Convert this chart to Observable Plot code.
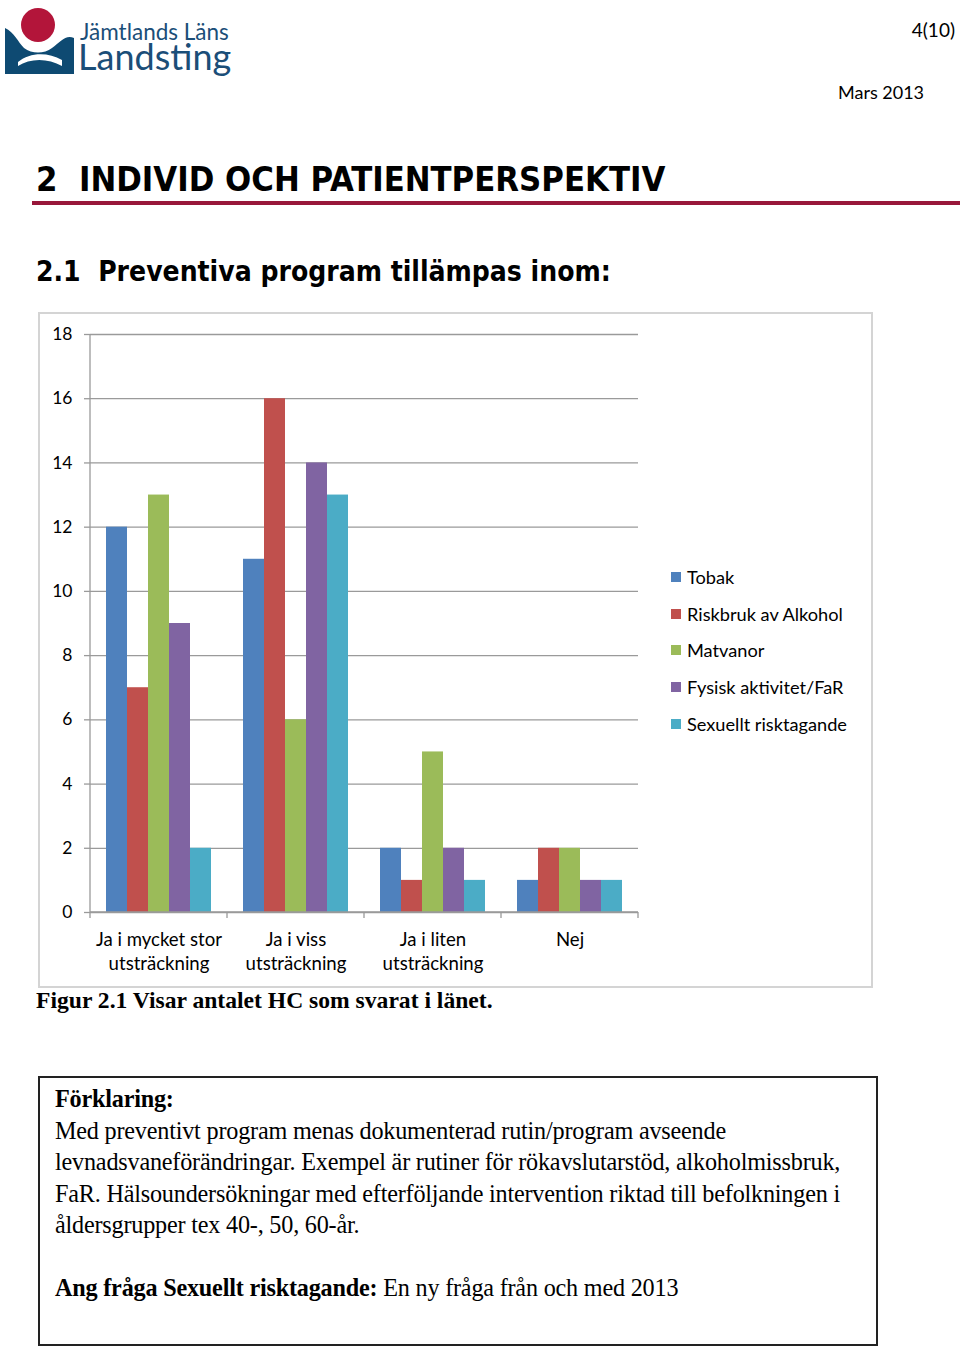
<!DOCTYPE html>
<html>
<head>
<meta charset="utf-8">
<script src="https://cdn.jsdelivr.net/npm/d3@7"></script>
<script src="https://cdn.jsdelivr.net/npm/@observablehq/plot@0.6"></script>
<style>
  html, body { margin: 0; padding: 0; background: #fff; }
  body { width: 960px; height: 1349px; position: relative; overflow: hidden; font-family: Lato, "Open Sans", sans-serif; color: #000; }
  .abs { position: absolute; }
  #logo { left: 2px; top: 4px; }
  .pg { right: 5px; top: 18px; font-size: 19px; font-family: Lato, sans-serif; }
  .date { left: 838px; top: 81px; font-size: 18px; font-family: Lato, sans-serif; }
  .h1 { left: 36px; top: 159px; font-family: "DejaVu Sans Condensed", "DejaVu Sans", sans-serif; font-stretch: condensed; font-weight: bold; font-size: 34.3px; white-space: nowrap; }
  .rule { left: 32px; top: 201px; width: 928px; height: 4px; background: #98173a; }
  .h2 { left: 36px; top: 255px; font-family: "DejaVu Sans Condensed", "DejaVu Sans", sans-serif; font-stretch: condensed; font-weight: bold; font-size: 28px; white-space: nowrap; }
  #chartbox { left: 38px; top: 312px; width: 835px; height: 676px; box-sizing: border-box; border: 2px solid #d4d4d4; }
  #chart { position: absolute; left: 0; top: 0; }
  #legend { position: absolute; left: 631px; top: 245px; font-size: 18.2px; font-family: Lato, sans-serif; }
  .li { height: 36.6px; display: flex; align-items: center; white-space: nowrap; }
  .sw { width: 10px; height: 10px; margin-right: 6px; display: inline-block; }
  .cap { left: 36px; top: 987px; font-family: "Liberation Serif", "DejaVu Serif", serif; font-weight: bold; font-size: 23.6px; white-space: nowrap; }
  #expl { left: 38px; top: 1076px; width: 840px; height: 270px; box-sizing: border-box; border: 2px solid #222; padding: 5px 15px; font-family: "Liberation Serif", "DejaVu Serif", serif; font-size: 24.2px; line-height: 31.5px; letter-spacing: -0.2px; }
  #expl p { margin: 0; white-space: nowrap; }
</style>
</head>
<body>
<svg id="logo" class="abs" width="240" height="80" viewBox="0 0 240 80">
  <path d="M3 24 L3 70 L72 70 L72 34 C64 30 58 38 50 44 C42 50 30 50 22 44 C16 38 12 28 3 24 Z" fill="#0e4a72"/>
  <path d="M16 58 C28 48 46 48 60 56 L60 62 C46 54 28 54 16 62 Z" fill="#ffffff"/>
  <circle cx="36" cy="21" r="17" fill="#b3153a"/>
  <text x="78" y="36" font-family="Lato, 'Open Sans', sans-serif" font-size="22.5" fill="#1b4e78">Jämtlands Läns</text>
  <text x="76" y="66" font-family="Lato, 'Open Sans', sans-serif" font-size="36" fill="#1b4e78">Landsting</text>
</svg>
<div class="abs pg">4(10)</div>
<div class="abs date">Mars 2013</div>
<div class="abs h1">2&nbsp;&nbsp;INDIVID OCH PATIENTPERSPEKTIV</div>
<div class="abs rule"></div>
<div class="abs h2">2.1&nbsp;&nbsp;Preventiva program tillämpas inom:</div>
<div id="chartbox" class="abs">
  <div id="chart"></div>
  <div id="legend"></div>
</div>
<div class="abs cap">Figur 2.1 Visar antalet HC som svarat i länet.</div>
<div id="expl" class="abs">
  <p><b>Förklaring:</b></p>
  <p>Med preventivt program menas dokumenterad rutin/program avseende</p>
  <p>levnadsvaneförändringar. Exempel är rutiner för rökavslutarstöd, alkoholmissbruk,</p>
  <p>FaR. Hälsoundersökningar med efterföljande intervention riktad till befolkningen i</p>
  <p>åldersgrupper tex 40-, 50, 60-år.</p>
  <p>&nbsp;</p>
  <p><b>Ang fråga Sexuellt risktagande:</b> En ny fråga från och med 2013</p>
</div>
<script>
const categories = ["Ja i mycket stor\nutsträckning", "Ja i viss\nutsträckning", "Ja i liten\nutsträckning", "Nej"];
const series = ["Tobak", "Riskbruk av Alkohol", "Matvanor", "Fysisk aktivitet/FaR", "Sexuellt risktagande"];
const colors = ["#4f81bd", "#c0504d", "#9bbb59", "#8064a2", "#4bacc6"];
const tobak = [12, 11, 2, 1];
const alkohol = [7, 16, 1, 2];
const matvanor = [13, 6, 5, 2];
const fysisk = [9, 14, 2, 1];
const sexuellt = [2, 13, 1, 1];
const yTicks = [0, 2, 4, 6, 8, 10, 12, 14, 16, 18];

const seriesValues = [tobak, alkohol, matvanor, fysisk, sexuellt];
const data = [];
categories.forEach((c, i) => series.forEach((s, j) => data.push({category: c, series: s, value: seriesValues[j][i]})));

const gridColor = "#9a9a9a";
const plot = Plot.plot({
  width: 620,
  height: 670,
  marginLeft: 50,
  marginRight: 22,
  marginTop: 20,
  marginBottom: 72,
  style: {fontFamily: "Lato, 'Open Sans', sans-serif", fontSize: "17.5px", color: "#000", background: "transparent"},
  fx: {domain: categories, padding: 0, label: null},
  x: {domain: series, paddingInner: 0, paddingOuter: 0.76, axis: null},
  y: {domain: [0, 18], label: null},
  color: {domain: series, range: colors},
  marks: [
    Plot.gridY(yTicks, {stroke: gridColor, strokeOpacity: 1, strokeWidth: 1.3}),
    Plot.barY(data, {fx: "category", x: "series", y: "value", fill: "series"}),
    Plot.axisY(yTicks, {tickSize: 6, tickPadding: 12, stroke: gridColor, strokeWidth: 1.3, fontSize: 17.5}),
    Plot.axisFx({anchor: "bottom", tickSize: 0, tickPadding: 16, lineHeight: 1.32, fontSize: 18.6, label: null})
  ]
});
document.getElementById("chart").appendChild(plot);

// axis line and category boundary ticks, positioned with the plot's scales
const fx = plot.scale("fx");
const ys = plot.scale("y");
const svg = d3.select(plot.tagName.toLowerCase() === "svg" ? plot : plot.querySelector("svg"));
const bw = fx.bandwidth;
const starts = categories.map(c => fx.apply(c));
const bounds = starts.concat([starts[starts.length - 1] + bw]);
const y0 = ys.apply(0), yTop = ys.apply(18);
const g = svg.append("g").attr("stroke", gridColor).attr("stroke-width", 1.3);
g.append("line").attr("x1", bounds[0]).attr("x2", bounds[0]).attr("y1", yTop).attr("y2", y0);
g.append("line").attr("x1", bounds[0]).attr("x2", bounds[bounds.length - 1]).attr("y1", y0).attr("y2", y0);
g.selectAll("line.b").data(bounds).join("line").attr("class", "b")
  .attr("x1", d => d).attr("x2", d => d).attr("y1", y0).attr("y2", y0 + 6);

// legend
const legend = document.getElementById("legend");
series.forEach((s, i) => {
  const row = document.createElement("div");
  row.className = "li";
  row.innerHTML = `<span class="sw" style="background:${colors[i]}"></span><span>${s}</span>`;
  legend.appendChild(row);
});
</script>
</body>
</html>
